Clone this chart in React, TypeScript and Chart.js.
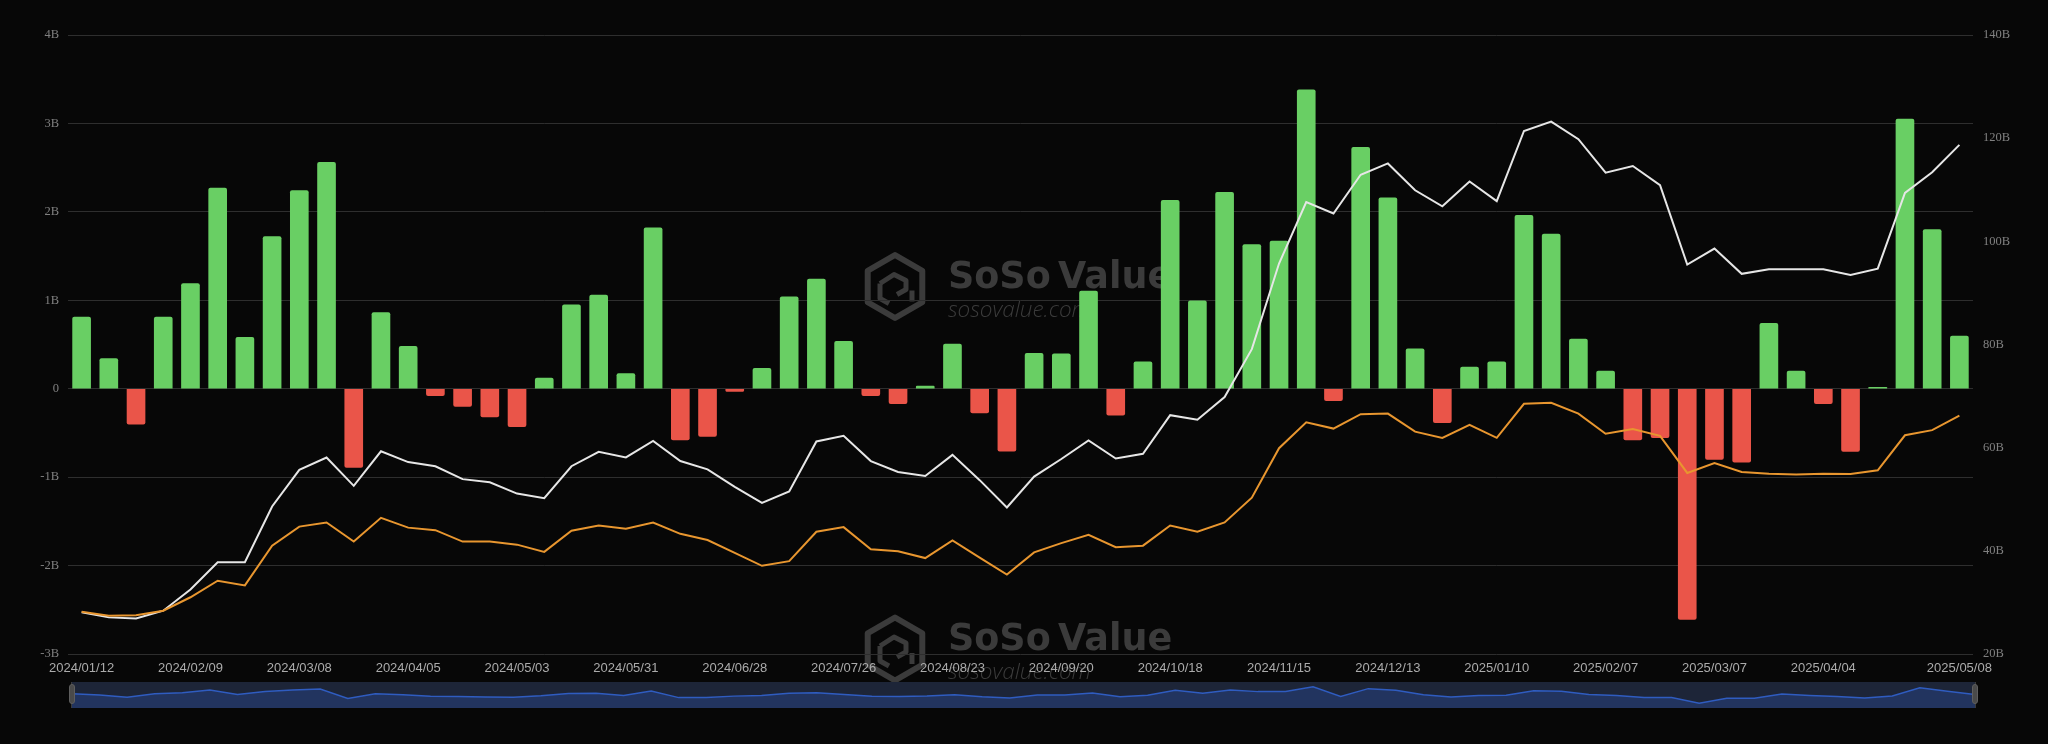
import React, { useEffect, useRef } from "react";
import { Chart, registerables } from "chart.js";

Chart.register(...registerables);

// ---------- data ----------
const dates = [
  "2024/01/12", "2024/01/19", "2024/01/26", "2024/02/02", "2024/02/09", "2024/02/16", "2024/02/23", "2024/03/01",
  "2024/03/08", "2024/03/15", "2024/03/22", "2024/03/29", "2024/04/05", "2024/04/12", "2024/04/19", "2024/04/26",
  "2024/05/03", "2024/05/10", "2024/05/17", "2024/05/24", "2024/05/31", "2024/06/07", "2024/06/14", "2024/06/21",
  "2024/06/28", "2024/07/05", "2024/07/12", "2024/07/19", "2024/07/26", "2024/08/02", "2024/08/09", "2024/08/16",
  "2024/08/23", "2024/08/30", "2024/09/06", "2024/09/13", "2024/09/20", "2024/09/27", "2024/10/04", "2024/10/11",
  "2024/10/18", "2024/10/25", "2024/11/01", "2024/11/08", "2024/11/15", "2024/11/22", "2024/11/29", "2024/12/06",
  "2024/12/13", "2024/12/20", "2024/12/27", "2025/01/03", "2025/01/10", "2025/01/17", "2025/01/24", "2025/01/31",
  "2025/02/07", "2025/02/14", "2025/02/21", "2025/02/28", "2025/03/07", "2025/03/14", "2025/03/21", "2025/03/28",
  "2025/04/04", "2025/04/11", "2025/04/18", "2025/04/25", "2025/05/02", "2025/05/08",
];

// weekly net inflow (B USD)
const netInflow = [
  0.81, 0.34, -0.4, 0.81, 1.19, 2.27, 0.58, 1.72, 2.24, 2.56,
  -0.89, 0.86, 0.48, -0.08, -0.2, -0.32, -0.43, 0.12, 0.95, 1.06,
  0.17, 1.82, -0.58, -0.54, -0.03, 0.23, 1.04, 1.24, 0.535, -0.08,
  -0.17, 0.03, 0.505, -0.275, -0.705, 0.4, 0.395, 1.105, -0.3, 0.305,
  2.13, 0.995, 2.22, 1.63, 1.67, 3.38, -0.135, 2.73, 2.16, 0.45,
  -0.385, 0.245, 0.305, 1.96, 1.75, 0.56, 0.2, -0.58, -0.555, -2.61,
  -0.8, -0.83, 0.74, 0.2, -0.17, -0.71, 0.015, 3.05, 1.8, 0.595,
];

// total net assets (B USD) - white line
const totalNetAssets = [
  28.1, 27.1, 26.9, 28.4, 32.5, 37.8, 37.8, 48.6, 55.7, 58.1,
  52.6, 59.3, 57.2, 56.4, 53.9, 53.3, 51.1, 50.2, 56.4, 59.2,
  58.1, 61.3, 57.4, 55.8, 52.4, 49.3, 51.5, 61.2, 62.3, 57.4,
  55.3, 54.5, 58.6, 53.7, 48.4, 54.4, 57.8, 61.4, 57.9, 58.8,
  66.3, 65.4, 69.8, 79.1, 95.7, 107.6, 105.4, 112.9, 115.1, 109.9,
  106.8, 111.6, 107.8, 121.4, 123.2, 119.8, 113.3, 114.6, 110.9, 95.5,
  98.6, 93.7, 94.6, 94.6, 94.6, 93.5, 94.7, 109.4, 113.4, 118.7,
];

// cumulative net inflow (B USD) - orange line
const cumulativeInflow = [
  28.2, 27.4, 27.5, 28.4, 31.0, 34.2, 33.3, 41.0, 44.7, 45.5,
  41.8, 46.4, 44.5, 44.0, 41.8, 41.8, 41.2, 39.8, 43.9, 44.9,
  44.3, 45.5, 43.3, 42.1, 39.6, 37.1, 38.0, 43.7, 44.6, 40.3,
  39.9, 38.6, 42.0, 38.7, 35.4, 39.7, 41.5, 43.1, 40.7, 41.0,
  44.9, 43.7, 45.5, 50.3, 59.9, 64.9, 63.7, 66.5, 66.6, 63.1,
  61.9, 64.4, 61.9, 68.5, 68.7, 66.6, 62.7, 63.6, 62.3, 55.1,
  57.0, 55.3, 54.95, 54.8, 54.95, 54.9, 55.6, 62.4, 63.4, 66.2,
];

const leftTicks = [-3, -2, -1, 0, 1, 2, 3, 4];
const rightTicks = [20, 40, 60, 80, 100, 120, 140];

// ---------- styles ----------
const BG = "#070707";
const GREEN = "#69cf64";
const RED = "#ea5549";
const WHITE_LINE = "#e6e6e6";
const ORANGE_LINE = "#e8962f";
const GRID = "#2e2e2e";
const WM = "#3b3b3b";

function drawHexLogo(ctx: CanvasRenderingContext2D, cx: number, cy: number, r: number) {
  ctx.save();
  ctx.strokeStyle = WM;
  ctx.lineJoin = "round";
  ctx.lineWidth = 6;
  const rr = r - 3;
  ctx.beginPath();
  for (let k = 0; k < 6; k++) {
    const a = -Math.PI / 2 + (k * Math.PI) / 3;
    const x = cx + rr * Math.cos(a);
    const y = cy + rr * Math.sin(a);
    if (k === 0) ctx.moveTo(x, y);
    else ctx.lineTo(x, y);
  }
  ctx.closePath();
  ctx.stroke();
  ctx.lineWidth = 5;
  ctx.beginPath();
  ctx.moveTo(cx - 15, cy - 3);
  ctx.lineTo(cx - 1, cy - 12);
  ctx.lineTo(cx + 11, cy - 6);
  ctx.lineTo(cx + 11, cy + 3);
  ctx.lineTo(cx + 2, cy + 8);
  ctx.stroke();
  ctx.beginPath();
  ctx.moveTo(cx - 15, cy - 3);
  ctx.lineTo(cx - 15, cy + 12);
  ctx.lineTo(cx - 6, cy + 17);
  ctx.stroke();
  ctx.beginPath();
  ctx.moveTo(cx + 17, cy + 4);
  ctx.lineTo(cx + 17, cy + 15);
  ctx.stroke();
  ctx.restore();
}

function drawWatermark(ctx: CanvasRenderingContext2D, cy: number) {
  drawHexLogo(ctx, 895, cy, 34.5);
  ctx.save();
  ctx.fillStyle = WM;
  ctx.textAlign = "left";
  ctx.textBaseline = "alphabetic";
  ctx.font = 'bold 36.5px "DejaVu Sans", sans-serif';
  ctx.fillText("SoSo", 948, cy + 1);
  ctx.fillText("Value", 1058, cy + 1);
  ctx.font = 'italic 300 22.5px "Open Sans", sans-serif';
  ctx.fillText("sosovalue.com", 948, cy + 30);
  ctx.restore();
}

const backgroundPlugin = {
  id: "bgAndWatermark",
  beforeDraw(chart: any) {
    const ctx = chart.ctx as CanvasRenderingContext2D;
    ctx.save();
    ctx.fillStyle = BG;
    ctx.fillRect(0, 0, chart.width, chart.height);
    ctx.restore();
    drawWatermark(ctx, 286.5);
    drawWatermark(ctx, 649);
  },
};

const navBgPlugin = {
  id: "navBg",
  beforeDraw(chart: any) {
    const ctx = chart.ctx as CanvasRenderingContext2D;
    ctx.save();
    ctx.fillStyle = "#1d2538";
    ctx.fillRect(0, 0, chart.width, chart.height);
    ctx.restore();
  },
};

const serif = '"Liberation Serif", "Times New Roman", serif';
const sans = '"Liberation Sans", Arial, sans-serif';

export default function App() {
  const mainRef = useRef<HTMLCanvasElement | null>(null);
  const navRef = useRef<HTMLCanvasElement | null>(null);

  useEffect(() => {
    if (!mainRef.current || !navRef.current) return;
    const last = dates.length - 1;
    const main = new Chart(mainRef.current, {
      type: "bar",
      data: {
        labels: dates,
        datasets: [
          {
            type: "line",
            label: "Cumulative Net Inflow",
            data: cumulativeInflow,
            yAxisID: "y1",
            borderColor: ORANGE_LINE,
            borderWidth: 2,
            pointRadius: 0,
            tension: 0,
            order: 0,
          },
          {
            type: "line",
            label: "Total Net Assets",
            data: totalNetAssets,
            yAxisID: "y1",
            borderColor: WHITE_LINE,
            borderWidth: 2,
            pointRadius: 0,
            tension: 0,
            order: 1,
          },
          {
            type: "bar",
            label: "Total Net Inflow",
            data: netInflow,
            yAxisID: "y",
            backgroundColor: (c: any) => ((c.raw ?? 0) >= 0 ? GREEN : RED),
            barThickness: 18,
            borderRadius: 2,
            order: 2,
          },
        ],
      } as any,
      options: {
        responsive: false,
        animation: false,
        devicePixelRatio: 1,
        layout: { padding: { top: 35, left: 0, right: 0, bottom: 0 } },
        plugins: { legend: { display: false }, tooltip: { enabled: false } },
        scales: {
          x: {
            offset: true,
            grid: { display: false, drawTicks: false },
            border: { display: false },
            ticks: {
              autoSkip: false,
              maxRotation: 0,
              minRotation: 0,
              padding: 7,
              color: "#ababab",
              font: { family: sans, size: 13 },
              callback: (_v: any, i: number) =>
                (i % 4 === 0 && i <= last - 5) || i === last ? dates[i] : "",
            },
            afterFit: (s: any) => {
              s.height = 90;
            },
          },
          y: {
            position: "left",
            min: leftTicks[0],
            max: leftTicks[leftTicks.length - 1],
            grid: { color: GRID, drawTicks: false, lineWidth: 1 },
            border: { display: false },
            ticks: {
              stepSize: 1,
              padding: 9,
              color: "#808080",
              font: { family: serif, size: 12.5 },
              callback: (v: any) => (v === 0 ? "0" : `${v}B`),
            },
            afterFit: (s: any) => {
              s.width = 68;
            },
          },
          y1: {
            position: "right",
            min: rightTicks[0],
            max: rightTicks[rightTicks.length - 1],
            grid: { display: false, drawTicks: false },
            border: { display: false },
            ticks: {
              stepSize: 20,
              padding: 10,
              color: "#808080",
              font: { family: serif, size: 12.5 },
              callback: (v: any) => `${v}B`,
            },
            afterFit: (s: any) => {
              s.width = 75;
            },
          },
        },
      } as any,
      plugins: [backgroundPlugin],
    });

    const nav = new Chart(navRef.current, {
      type: "line",
      data: {
        labels: dates,
        datasets: [
          {
            data: netInflow,
            borderColor: "#2f5cc0",
            borderWidth: 1.5,
            backgroundColor: "#22345f",
            fill: "start",
            pointRadius: 0,
            tension: 0,
          },
        ],
      },
      options: {
        responsive: false,
        animation: false,
        devicePixelRatio: 1,
        layout: { padding: 0 },
        plugins: { legend: { display: false }, tooltip: { enabled: false } },
        scales: {
          x: { display: false, offset: false },
          y: { display: false, min: -4.41, max: 5.18 },
        },
      } as any,
      plugins: [navBgPlugin],
    });

    return () => {
      main.destroy();
      nav.destroy();
    };
  }, []);

  const handle = (left: number): React.CSSProperties => ({
    position: "absolute",
    left,
    top: 684,
    width: 6,
    height: 20,
    background: "#4a4a4a",
    border: "1px solid #5e5e5e",
    borderRadius: 3,
    boxSizing: "border-box",
  });
  const edge = (left: number): React.CSSProperties => ({
    position: "absolute",
    left,
    top: 682,
    width: 1,
    height: 26,
    background: "#3a3a3a",
  });

  return (
    <div
      style={{
        position: "fixed",
        left: 0,
        top: 0,
        width: 2048,
        height: 744,
        background: BG,
        overflow: "hidden",
      }}
    >
      <canvas ref={mainRef} width={2048} height={744} style={{ position: "absolute", left: 0, top: 0, display: "block" }} />
      <canvas ref={navRef} width={1903} height={26} style={{ position: "absolute", left: 72, top: 682, display: "block" }} />
      <div style={edge(71)} />
      <div style={edge(1975)} />
      <div style={handle(69)} />
      <div style={handle(1972)} />
    </div>
  );
}
